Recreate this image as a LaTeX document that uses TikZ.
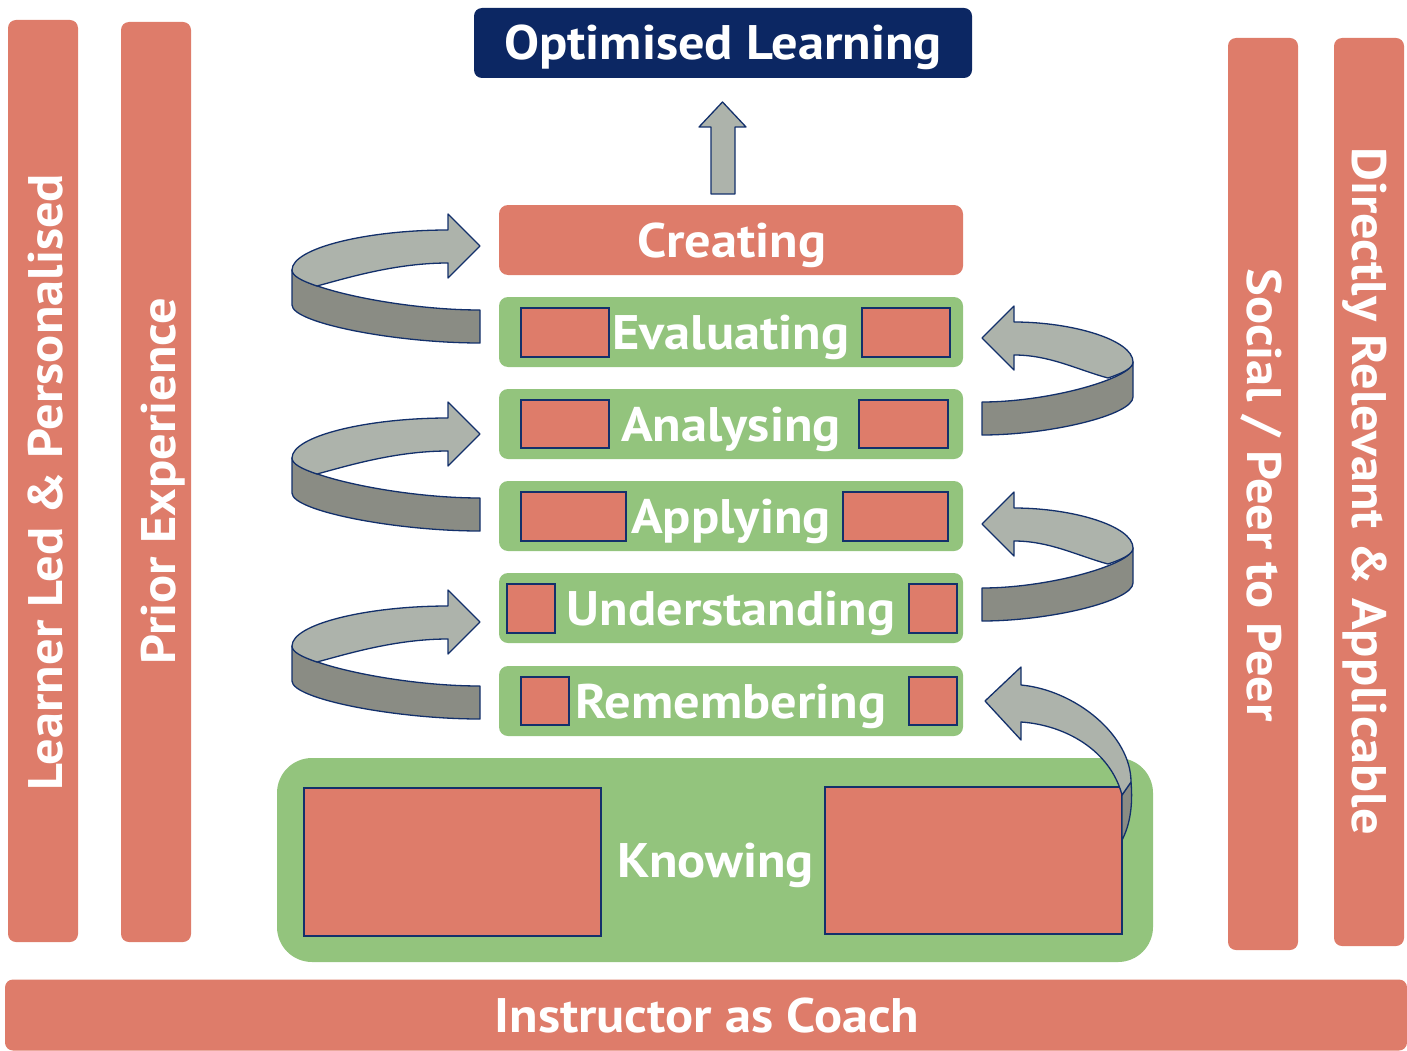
\documentclass[tikz,border=0pt]{standalone}
\usepackage{fontspec}
\setmainfont{PT Sans}[FakeStretch=1.08]
\usetikzlibrary{calc}
\definecolor{salmon}{HTML}{DE7C6A}
\definecolor{leaf}{HTML}{93C47D}
\definecolor{navy}{HTML}{0C2763}
\definecolor{edge}{HTML}{13306B}
\definecolor{argl}{HTML}{ADB3AB}
\definecolor{argd}{HTML}{8A8C84}
\newcommand{\ribbon}[4]{%
\begin{scope}[shift={(#1,#2)}, xscale=#3]
\filldraw[arrowdark] (0,64) .. controls ({-0.45*#4},64) and ({-#4},40) .. ({-#4},24)
  -- ({-#4},59) .. controls ({-#4},77) and ({-0.45*#4},97) .. (0,97) -- cycle;
\filldraw[arrowlight] ({-#4},24) .. controls ({-#4},2) and ({-0.6*#4},-16) .. (-32,-16)
  -- (-32,-32) -- (0,0) -- (-32,32) -- (-32,17)
  .. controls ({-0.45*#4},17) and ({-#4+55},32) .. ({-#4+25},40)
  .. controls ({-#4+10},35) and ({-#4},30) .. cycle;
\end{scope}}
\tikzset{
  bar/.style={fill=salmon, draw=none, rounded corners=8pt, inner sep=0pt},
  level/.style={fill=leaf, draw=none, rounded corners=9pt, inner sep=0pt, minimum width=464pt, minimum height=70pt},
  toplevel/.style={fill=salmon, draw=none, rounded corners=9pt, inner sep=0pt, minimum width=464pt, minimum height=70pt},
  sq/.style={fill=salmon, draw=edge, line width=1.3pt, inner sep=0pt},
  lab/.style={text=white, font=\fontsize{48.5}{48.5}\selectfont\bfseries, inner sep=0pt, anchor=base},
  arrowlight/.style={fill=argl, draw=edge, line width=1.3pt, line join=round},
  arrowdark/.style={fill=argd, draw=edge, line width=1.3pt, line join=round},
}
\begin{document}
\begin{tikzpicture}[x=1pt,y=-1pt]
\useasboundingbox (0,0) rectangle (1407,1051);
% side bars
\node[bar, minimum width=70pt, minimum height=922pt] (b1) at (43,481) {};
\node[lab, rotate=90] (t1) at (62,482) {Learner Led \& Personalised};
\node[bar, minimum width=70pt, minimum height=920pt] (b2) at (156,482) {};
\node[lab, rotate=90] (t2) at (175,481) {Prior Experience};
\node[bar, minimum width=70pt, minimum height=912pt] (b3) at (1263,494) {};
\node[lab, rotate=-90] (t3) at (1247,495) {Social / Peer to Peer};
\node[bar, minimum width=70pt, minimum height=908pt] (b4) at (1369,492) {};
\node[lab, rotate=-90] (t4) at (1352,491) {Directly Relevant \& Applicable};
% bottom bar
\node[bar, minimum width=1402pt, minimum height=71pt] (bottom) at (706,1015) {};
\node[lab] (tb) at (707,1032) {Instructor as Coach};
% top box
\node[fill=navy, rounded corners=8pt, minimum width=498pt, minimum height=70pt, inner sep=0pt] (opt) at (723,43) {};
\node[lab] (topt) at (723,60) {Optimised Learning};
% up arrow
\filldraw[arrowlight] (711,194) -- (711,127) -- (699,127) -- (722.5,102) -- (746,127) -- (735,127) -- (735,194) -- cycle;
% levels
\node[toplevel] (creating) at (731,240) {};
\node[lab] (tcreating) at (732,257) {Creating};
\node[level] (evaluating) at (731,332) {};
\node[sq, minimum width=88pt, minimum height=49pt] (e1) at (565,332.5) {};
\node[sq, minimum width=88pt, minimum height=49pt] (e2) at (906,332.5) {};
\node[lab] (tevaluating) at (731,349) {Evaluating};
\node[level] (analysing) at (731,424) {};
\node[sq, minimum width=88pt, minimum height=48pt] (a1) at (565,424) {};
\node[sq, minimum width=89pt, minimum height=48pt] (a2) at (903.5,424) {};
\node[lab] (tanalysing) at (731,441) {Analysing};
\node[level] (applying) at (731,516) {};
\node[sq, minimum width=105pt, minimum height=49pt] (p1) at (573.5,516.5) {};
\node[sq, minimum width=105pt, minimum height=49pt] (p2) at (895.5,516.5) {};
\node[lab] (tapplying) at (731,533) {Applying};
\node[level] (understanding) at (731,608) {};
\node[sq, minimum width=48pt, minimum height=49pt] (u1) at (531,608.5) {};
\node[sq, minimum width=48pt, minimum height=49pt] (u2) at (933,608.5) {};
\node[lab] (tunderstanding) at (731,625) {Understanding};
\node[level] (remembering) at (731,701) {};
\node[sq, minimum width=48pt, minimum height=48pt] (r1) at (545,701) {};
\node[sq, minimum width=48pt, minimum height=48pt] (r2) at (933,701) {};
\node[lab] (tremembering) at (731,718) {Remembering};
% knowing
\node[fill=leaf, rounded corners=35pt, minimum width=876pt, minimum height=204pt, inner sep=0pt] (knowing) at (715,860) {};
\node[sq, minimum width=297pt, minimum height=148pt] (k1) at (452.5,862) {};
\node[sq, minimum width=297pt, minimum height=147pt] (k2) at (973.5,860.5) {};
\node[lab] (tknowing) at (716,877) {Knowing};
% ribbon arrows
\ribbon{480}{246}{1}{188}
\ribbon{480}{434}{1}{188}
\ribbon{480}{622}{1}{188}
\ribbon{982}{338}{-1}{151}
\ribbon{982}{524}{-1}{151}
% knowing -> remembering arrow
\filldraw[arrowdark] (1131,782) .. controls (1133,805) and (1130,825) .. (1122,840) -- (1122,795) -- cycle;
\filldraw[arrowlight] (985,701) -- (1021,667) -- (1021,685)
  .. controls (1075,690) and (1131,735) .. (1131,782)
  -- (1122,795) .. controls (1110,750) and (1065,725) .. (1021,722)
  -- (1021,740) -- cycle;
\end{tikzpicture}
\end{document}
